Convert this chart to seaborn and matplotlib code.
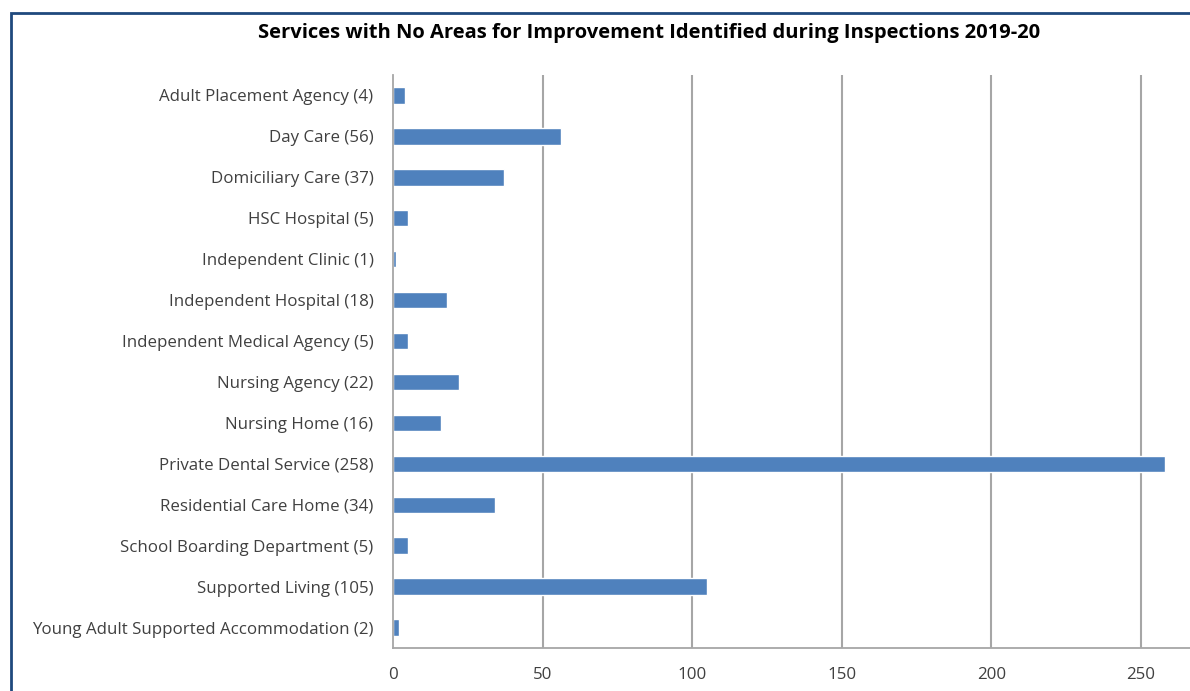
import matplotlib
matplotlib.use("Agg")
import matplotlib.pyplot as plt
import seaborn as sns
import pandas as pd
from matplotlib.patches import Rectangle

categories = [
    "Adult Placement Agency (4)",
    "Day Care (56)",
    "Domiciliary Care (37)",
    "HSC Hospital (5)",
    "Independent Clinic (1)",
    "Independent Hospital (18)",
    "Independent Medical Agency (5)",
    "Nursing Agency (22)",
    "Nursing Home (16)",
    "Private Dental Service (258)",
    "Residential Care Home (34)",
    "School Boarding Department (5)",
    "Supported Living (105)",
    "Young Adult Supported Accommodation (2)",
]
values = [4, 56, 37, 5, 1, 18, 5, 22, 16, 258, 34, 5, 105, 2]
x_ticks = [0, 50, 100, 150, 200, 250]
title = "Services with No Areas for Improvement Identified during Inspections 2019-20"

sns.set_style("white")
plt.rcParams['font.family'] = ['Open Sans', 'DejaVu Sans']

df = pd.DataFrame({"service": categories, "count": values})

fig = plt.figure(figsize=(11.9, 6.91), dpi=100)
W, H = 1190, 691
ax = fig.add_axes([393 / W, 1 - 648 / H, (W - 393) / W, (648 - 75) / H])

sns.barplot(data=df, y="service", x="count", orient="h", color="#4F81BD",
            saturation=1, width=0.4, ax=ax, order=categories)

ax.set_xlim(0, (W - 393) / (748 / 250))
ax.set_ylim(len(categories) - 0.5, -0.5)
ax.set_xticks(x_ticks)
ax.set_xlabel("")
ax.set_ylabel("")

grid_c = "#A6A6A6"
for v in x_ticks[1:]:
    ax.axvline(v, color=grid_c, lw=1.5, zorder=0)

for s in ["top", "right"]:
    ax.spines[s].set_visible(False)
for s in ["left", "bottom"]:
    ax.spines[s].set_color(grid_c)
    ax.spines[s].set_linewidth(1.3)

ax.set_yticks(range(len(categories)))
ax.set_yticklabels(categories)
ax.set_yticks([i - 0.5 for i in range(len(categories) + 1)], minor=True)
ax.tick_params(axis="y", which="major", length=0, pad=14, labelsize=12.2, labelcolor="#404040")
ax.tick_params(axis="y", which="minor", length=7, width=1.3, color=grid_c, direction="out")
ax.tick_params(axis="x", which="major", length=7, width=1.3, color=grid_c, direction="out",
               pad=7, labelsize=12.2, labelcolor="#404040")

fig.text(649 / W, 1 - 33 / H, title, ha="center", va="center", fontsize=14.5,
         fontweight="bold", color="#000000")

fig.patches.append(Rectangle((11 / W, -0.1), 2.0, (1 - 13 / H) + 0.1, fill=False,
                             edgecolor="#1F497D", lw=2, transform=fig.transFigure,
                             clip_on=False))

fig.savefig("out.png", dpi=100)
